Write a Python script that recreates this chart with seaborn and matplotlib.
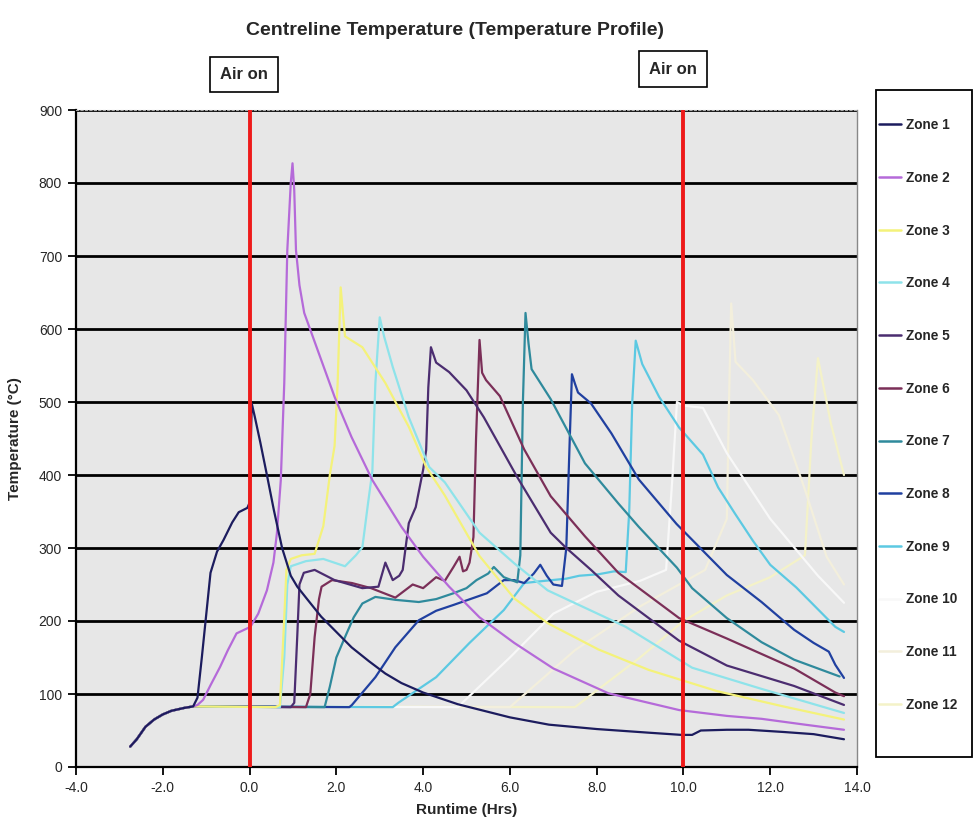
import numpy as np
import pandas as pd
import matplotlib
matplotlib.use("Agg")
import matplotlib.pyplot as plt
from matplotlib.lines import Line2D
from matplotlib.patches import Rectangle
import seaborn as sns

# ---------------- data ----------------
zones = ["Zone 1", "Zone 2", "Zone 3", "Zone 4", "Zone 5", "Zone 6",
         "Zone 7", "Zone 8", "Zone 9", "Zone 10", "Zone 11", "Zone 12"]

colors = ["#1c1c5e", "#b56ad9", "#f4f27a", "#8ee3ea", "#4b2d70", "#7b2f58",
          "#2f8a9c", "#2040a0", "#5cc9e2", "#f8f8f8", "#f3efdc", "#f4f2c8"]

pre_x = [-2.75, -2.6, -2.4, -2.2, -2.0, -1.8, -1.5, -1.3]
pre_y = [28, 38, 55, 65, 72, 77, 81, 83]

z1_x = [-1.2, -1.1, -0.9, -0.75, -0.6, -0.4, -0.25, -0.05, 0.0, 0.05, 0.12, 0.25, 0.4, 0.56, 0.75,
        0.95, 1.1, 1.3, 1.65, 2.0, 2.35, 2.75, 3.13, 3.5, 4.0, 4.4, 4.8, 5.2, 6.0, 6.9, 8.0, 9.2,
        9.95, 10.2, 10.4, 11.0, 11.5, 12.3, 13.0, 13.7]
z1_y = [95, 150, 266, 295, 311, 335, 349, 355, 362, 498, 480, 444, 400, 352, 300,
        262, 247, 232, 206, 185, 164, 145, 128, 115, 102, 94, 86, 80, 68, 58, 52, 47,
        44, 44, 50, 51, 51, 48, 45, 38]

z2_x = [-1.2, -1.07, -0.9, -0.68, -0.5, -0.3, 0.02, 0.2, 0.4, 0.55, 0.63, 0.72, 0.8, 0.87, 0.95,
        0.99, 1.03, 1.07, 1.15, 1.26, 1.57, 1.96, 2.35, 2.83, 3.5, 4.0, 4.6, 5.3, 6.1, 7.0, 8.27,
        9.9, 11.0, 11.8, 12.8, 13.7]
z2_y = [85, 92, 112, 137, 160, 183, 192, 210, 242, 280, 320, 393, 526, 708, 800,
        827, 790, 708, 660, 622, 571, 507, 452, 393, 329, 288, 247, 205, 170, 135, 101,
        78, 70, 66, 58, 51]

z3_x = [0.6, 0.7, 0.78, 0.85, 0.95, 1.2, 1.5, 1.7, 1.85, 1.96, 2.03, 2.1, 2.2, 2.6, 3.13, 3.67,
        4.07, 4.5, 5.3, 6.1, 6.87, 8.04, 9.2, 10.77, 12.3, 13.7]
z3_y = [82, 85, 180, 270, 285, 290, 292, 330, 400, 440, 526, 657, 590, 575, 526, 466,
        411, 372, 289, 231, 197, 161, 133, 104, 83, 65]

z4_x = [0.7, 0.8, 0.87, 0.95, 1.3, 1.7, 2.2, 2.45, 2.6, 2.73, 2.83, 2.9, 3.0, 3.1, 3.3, 3.67,
        4.14, 4.5, 5.3, 6.1, 6.87, 8.67, 10.2, 11.8, 13.7]
z4_y = [82, 150, 250, 275, 282, 285, 275, 290, 301, 361, 405, 526, 616, 590, 548, 479,
        411, 390, 321, 279, 242, 192, 136, 107, 74]

z5_x = [0.95, 1.03, 1.1, 1.15, 1.25, 1.5, 1.96, 2.6, 2.97, 3.13, 3.3, 3.45, 3.53, 3.67, 3.83,
        4.0, 4.07, 4.12, 4.18, 4.3, 4.6, 5.0, 5.4, 6.17, 6.94, 7.3, 7.87, 8.5, 9.9, 11.0, 12.55,
        13.7]
z5_y = [82, 88, 180, 250, 266, 270, 256, 245, 247, 280, 256, 262, 270, 334, 356,
        407, 434, 520, 575, 554, 541, 516, 479, 397, 321, 300, 270, 235, 173, 139, 111,
        85]

z6_x = [1.3, 1.4, 1.5, 1.6, 1.66, 1.9, 2.36, 2.8, 3.36, 3.76, 4.0, 4.3, 4.5, 4.7, 4.84, 4.92,
        5.0, 5.07, 5.16, 5.22, 5.3, 5.36, 5.45, 5.77, 6.33, 6.94, 7.73, 8.5, 9.9, 11.0, 12.55,
        13.5, 13.7]
z6_y = [82, 100, 178, 230, 247, 256, 252, 245, 232, 250, 245, 260, 255, 274, 288, 268,
        270, 280, 315, 450, 585, 540, 530, 508, 435, 371, 316, 266, 204, 176, 135,
        102, 97]

z7_x = [1.73, 1.85, 2.0, 2.2, 2.4, 2.6, 2.9, 3.36, 3.9, 4.3, 4.7, 5.0, 5.23, 5.5, 5.63, 5.86,
        6.17, 6.24, 6.3, 6.36, 6.43, 6.5, 6.94, 7.73, 8.5, 8.97, 9.85, 10.2, 11.0, 11.8, 12.55,
        13.6]
z7_y = [82, 110, 150, 178, 205, 224, 233, 229, 226, 230, 238, 245, 256, 265, 274, 260,
        253, 290, 500, 622, 580, 545, 504, 416, 361, 329, 273, 245, 204, 171, 147,
        124]

z8_x = [2.3, 2.36, 2.9, 3.36, 3.9, 4.3, 4.7, 5.47, 5.86, 6.1, 6.33, 6.55, 6.7, 6.85, 7.0, 7.2,
        7.3, 7.38, 7.43, 7.5, 7.57, 7.87, 8.34, 8.97, 9.84, 10.37, 11.0, 11.8, 12.55, 13.0,
        13.35, 13.5, 13.7]
z8_y = [82, 85, 123, 164, 201, 214, 222, 238, 256, 256, 252, 265, 277, 262, 250, 248,
        300, 450, 538, 525, 513, 498, 457, 394, 333, 301, 263, 226, 188, 170,
        158, 140, 122]

z9_x = [3.3, 3.43, 4.3, 5.07, 5.86, 6.33, 6.8, 7.3, 7.6, 8.04, 8.4, 8.67, 8.75, 8.82, 8.9, 9.05,
        9.44, 9.9, 10.45, 10.8, 11.2, 11.6, 12.0, 12.6, 13.5, 13.7]
z9_y = [82, 88, 123, 170, 215, 252, 255, 258, 262, 264, 268, 267, 350, 500, 584, 552,
        507, 465, 428, 383, 346, 310, 277, 246, 192, 185]

z10_x = [4.8, 6.0, 7.0, 8.0, 9.0, 9.6, 9.75, 9.85, 10.0, 10.45, 11.0, 12.0, 13.1, 13.7]
z10_y = [82, 150, 210, 240, 255, 270, 400, 500, 495, 492, 430, 340, 262, 225]

z11_x = [6.0, 7.5, 9.0, 10.5, 11.0, 11.05, 11.1, 11.2, 11.6, 12.2, 12.8, 13.3, 13.7]
z11_y = [82, 160, 220, 270, 340, 500, 635, 555, 530, 482, 380, 288, 250]

z12_x = [7.5, 9.0, 10.0, 11.0, 12.0, 12.8, 12.95, 13.1, 13.4, 13.7]
z12_y = [82, 150, 200, 235, 260, 290, 450, 560, 470, 400]

xticks = [-4.0, -2.0, 0.0, 2.0, 4.0, 6.0, 8.0, 10.0, 12.0, 14.0]
yticks = [0, 100, 200, 300, 400, 500, 600, 700, 800, 900]
air_on_x = [0.0, 10.0]
air_label_x = [-0.13, 9.76]

# ---------------- assemble long-form table ----------------
series = [(z1_x, z1_y), (z2_x, z2_y), (z3_x, z3_y), (z4_x, z4_y), (z5_x, z5_y), (z6_x, z6_y),
          (z7_x, z7_y), (z8_x, z8_y), (z9_x, z9_y), (z10_x, z10_y), (z11_x, z11_y), (z12_x, z12_y)]
rows = []
for name, (xs, ys) in zip(zones, series):
    for a, b in zip(pre_x + xs, pre_y + ys):
        rows.append({"Zone": name, "Runtime": a, "Temp": b})
df = pd.DataFrame(rows)

# ---------------- style ----------------
sns.set_theme(style="white")
plt.rcParams["font.family"] = ["Liberation Sans", "DejaVu Sans"]

W, H = 974, 834
L, R, T, B = 76, 857, 110, 767
fig = plt.figure(figsize=(W / 100, H / 100), dpi=100, facecolor="white")
ax = fig.add_axes([L / W, 1 - B / H, (R - L) / W, (B - T) / H])
ax.set_facecolor("#e7e7e7")

palette = dict(zip(zones, colors))
# draw Zone 12 first so that the dark early zones sit on top of the shared pre-heat trace
sns.lineplot(data=df, x="Runtime", y="Temp", hue="Zone", hue_order=zones[::-1],
             palette=palette, sort=False, estimator=None, linewidth=1.6, legend=False, ax=ax)

ax.set_xlim(-4, 14)
ax.set_ylim(0, 900)
ax.set_xticks(xticks)
ax.set_xticklabels([f"{v:.1f}" for v in xticks], fontsize=10)
ax.set_yticks(yticks)
ax.set_yticklabels([str(v) for v in yticks], fontsize=10)
ax.yaxis.grid(True, color="black", linewidth=2.0)
ax.xaxis.grid(False)
ax.set_axisbelow(True)
ax.tick_params(axis="both", direction="out", length=6, width=1.3, color="black", pad=4,
               bottom=True, left=True)

for s in ["left", "bottom"]:
    ax.spines[s].set_color("black")
    ax.spines[s].set_linewidth(1.6)
ax.spines["right"].set_color("#888888")
ax.spines["right"].set_linewidth(1.0)
ax.spines["top"].set_color("#aaaaaa")
ax.spines["top"].set_linewidth(0.8)
ax.spines["top"].set_linestyle((0, (2, 2)))

# red "air on" lines
for xv in air_on_x:
    ax.axvline(xv, color="#ee1a1a", linewidth=2.8, zorder=5)

# labels
ax.set_xlabel("Runtime (Hrs)", fontsize=11, fontweight="bold", labelpad=6)
ax.set_ylabel("Temperature (°C)", fontsize=11, fontweight="bold")
ax.yaxis.set_label_coords((22 - L) / (R - L), 0.5)
fig.text(0.467, 0.964, "Centreline Temperature (Temperature Profile)", ha="center", va="center",
         fontsize=14, fontweight="bold")

# "Air on" boxes
for xv, yf in zip(air_label_x, [1.054, 1.062]):
    ax.text(xv, yf, "Air on", transform=ax.get_xaxis_transform(), ha="center", va="center",
            fontsize=12, fontweight="bold", clip_on=False,
            bbox=dict(boxstyle="square,pad=0.62", facecolor="white", edgecolor="black", linewidth=1.2))

# legend: frame drawn as a figure rectangle, entries placed inside it
fig.patches.append(Rectangle((876 / W, 1 - 757 / H), (972 - 876) / W, (757 - 90) / H,
                             transform=fig.transFigure, facecolor="white", edgecolor="black",
                             linewidth=1.3, zorder=0))
handles = [Line2D([0], [0], color=c, lw=1.8) for c in colors]
fs = 9.8
pitch = 52.3
leg = fig.legend(handles, zones, loc="upper left",
                 bbox_to_anchor=(879 / W, 1 - (125 - fs * 1.39 / 2) / H),
                 frameon=False, prop={"weight": "bold", "size": fs},
                 handlelength=1.65, handletextpad=0.3,
                 labelspacing=pitch / (fs * 1.389) - 1, borderpad=0, borderaxespad=0)

fig.savefig("out.png", dpi=100, facecolor="white")
